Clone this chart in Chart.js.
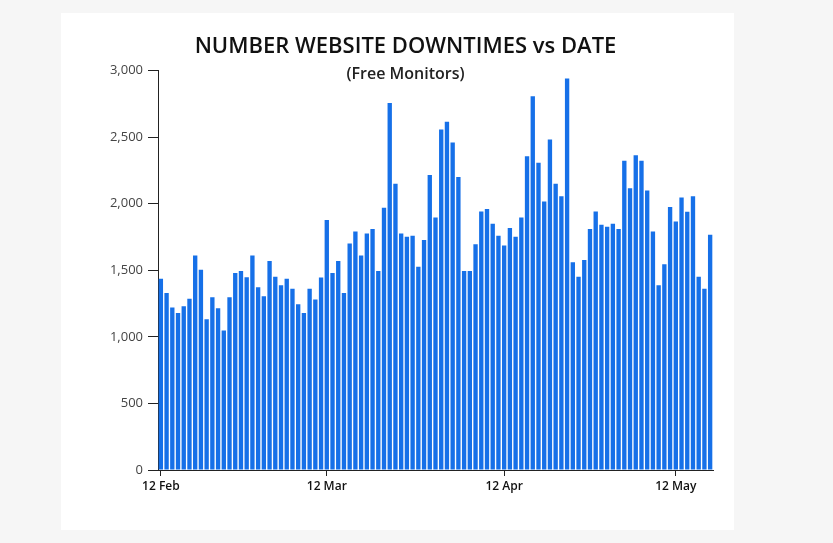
<!DOCTYPE html>
<html>
<head>
<meta charset="utf-8">
<script src="https://cdn.jsdelivr.net/npm/chart.js@4/dist/chart.umd.min.js"></script>
<style>
  html, body { margin: 0; padding: 0; background: #f6f6f6; }
  #card { position: absolute; left: 61px; top: 13px; width: 673px; height: 517px; background: #fff; }
  #downtimes { position: absolute; left: 0; top: 0; }
</style>
</head>
<body>
<div id="card"></div>
<canvas id="downtimes" width="833" height="543"></canvas>
<script>
var dates = [
    '12 Feb','13 Feb','14 Feb','15 Feb','16 Feb','17 Feb','18 Feb','19 Feb','20 Feb','21 Feb',
    '22 Feb','23 Feb','24 Feb','25 Feb','26 Feb','27 Feb','28 Feb','29 Feb',
    '1 Mar','2 Mar','3 Mar','4 Mar','5 Mar','6 Mar','7 Mar','8 Mar','9 Mar','10 Mar',
    '11 Mar','12 Mar','13 Mar','14 Mar','15 Mar','16 Mar','17 Mar','18 Mar','19 Mar','20 Mar',
    '21 Mar','22 Mar','23 Mar','24 Mar','25 Mar','26 Mar','27 Mar','28 Mar','29 Mar','30 Mar','31 Mar',
    '1 Apr','2 Apr','3 Apr','4 Apr','5 Apr','6 Apr','7 Apr','8 Apr','9 Apr','10 Apr',
    '11 Apr','12 Apr','13 Apr','14 Apr','15 Apr','16 Apr','17 Apr','18 Apr','19 Apr','20 Apr',
    '21 Apr','22 Apr','23 Apr','24 Apr','25 Apr','26 Apr','27 Apr','28 Apr','29 Apr','30 Apr',
    '1 May','2 May','3 May','4 May','5 May','6 May','7 May','8 May','9 May','10 May',
    '11 May','12 May','13 May','14 May','15 May','16 May','17 May','18 May'
];

var downtimes = [
    1437, 1330, 1220, 1180, 1230, 1287, 1612, 1505, 1132, 1297, 1215, 1047, 1297, 1480, 1495, 1447,
    1612, 1372, 1305, 1570, 1452, 1387, 1437, 1362, 1245, 1180, 1362, 1280, 1445, 1877, 1480, 1570,
    1330, 1702, 1792, 1612, 1777, 1810, 1495, 1970, 2757, 2150, 1777, 1752, 1760, 1527, 1727, 2215,
    1897, 2557, 2615, 2460, 2200, 1495, 1495, 1695, 1942, 1960, 1850, 1760, 1687, 1817, 1752, 1897,
    2357, 2807, 2307, 2017, 2482, 2150, 2057, 2940, 1560, 1452, 1577, 1810, 1942, 1842, 1827, 1850,
    1810, 2322, 2117, 2365, 2322, 2100, 1792, 1387, 1545, 1975, 1867, 2047, 1940, 2057, 1452, 1362,
    1767
];

// only these dates get a tick and a label on the x axis
var dateTicks = ['12 Feb', '12 Mar', '12 Apr', '12 May'];

var ctx = document.getElementById('downtimes');
var myChart = new Chart(ctx, {
    type: 'bar',
    data: {
        labels: dates,
        datasets: [{
            label: 'Downtimes',
            data: downtimes,
            backgroundColor: '#1670e8',
            borderWidth: 0,
            barPercentage: 0.76,
            categoryPercentage: 1
        }]
    },
    options: {
        responsive: false,
        animation: false,
        layout: {
            padding: { left: 98, right: 120, top: 0, bottom: 43 }
        },
        plugins: {
            legend: { display: false },
            tooltip: { enabled: false },
            title: {
                display: true,
                text: 'NUMBER WEBSITE DOWNTIMES vs DATE',
                color: '#111',
                font: { family: 'Open Sans', size: 22, weight: '600' },
                padding: { top: 34, bottom: 0 }
            },
            subtitle: {
                display: true,
                text: '(Free Monitors)',
                color: '#222',
                font: { family: 'Open Sans', size: 16, weight: '600' },
                padding: { top: 4, bottom: -13 }
            }
        },
        scales: {
            x: {
                afterFit: function (s) { s.height = 30; },
                border: { display: true, color: '#222', width: 1 },
                grid: {
                    drawOnChartArea: false,
                    offset: false,
                    tickLength: 6,
                    color: function (c) {
                        return dateTicks.indexOf(dates[c.index]) >= 0 ? '#222' : 'rgba(0,0,0,0)';
                    }
                },
                ticks: {
                    autoSkip: false,
                    maxRotation: 0,
                    padding: 3,
                    color: '#111',
                    font: { family: 'Open Sans', size: 12, weight: '600' },
                    callback: function (v, i) {
                        return dateTicks.indexOf(dates[i]) >= 0 ? dates[i] : '';
                    }
                }
            },
            y: {
                min: 0,
                max: 3000,
                afterFit: function (s) { s.width = 60; },
                border: { display: true, color: '#222', width: 1 },
                grid: {
                    drawOnChartArea: false,
                    tickLength: 10,
                    color: '#222'
                },
                ticks: {
                    stepSize: 500,
                    padding: 5,
                    color: '#444',
                    font: { family: 'Open Sans', size: 13 },
                    callback: function (v) { return v.toLocaleString('en-US'); }
                }
            }
        }
    }
});
</script>
</body>
</html>
